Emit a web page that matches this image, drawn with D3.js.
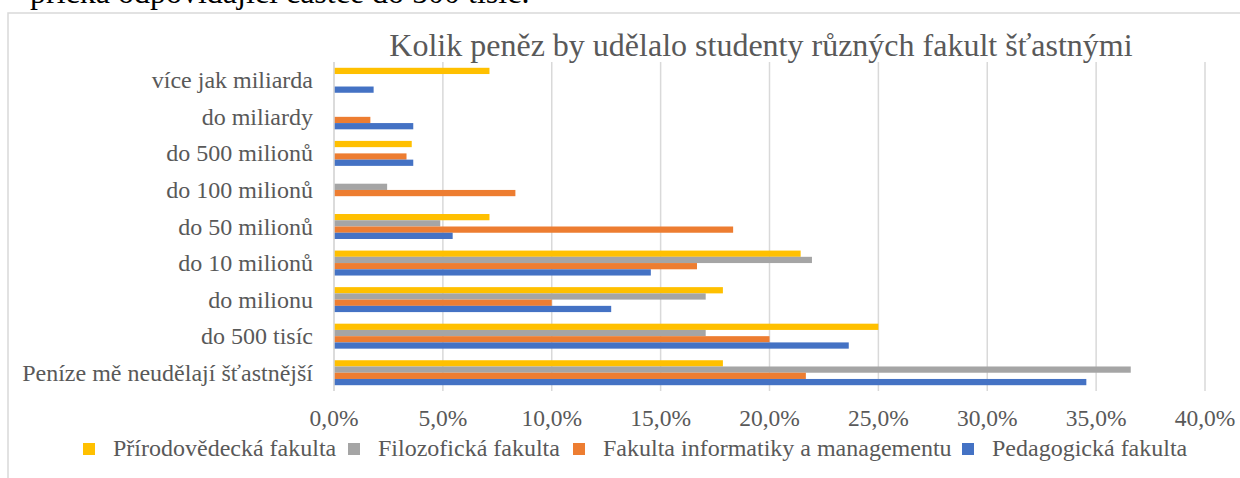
<!DOCTYPE html>
<html>
<head>
<meta charset="utf-8">
<script src="https://cdn.jsdelivr.net/npm/d3@7"></script>
<style>
  html, body { margin: 0; padding: 0; background: #fff; }
  svg { display: block; }
</style>
</head>
<body>
<div id="chart"></div>
<script>
// categories, bottom to top as in the original (first category at the bottom)
const categories = [
  "Peníze mě neudělají šťastnější",
  "do 500 tisíc",
  "do milionu",
  "do 10 milionů",
  "do 50 milionů",
  "do 100 milionů",
  "do 500 milionů",
  "do miliardy",
  "více jak miliarda"
];

const seriesNames = [
  "Přírodovědecká fakulta",
  "Filozofická fakulta",
  "Fakulta informatiky a managementu",
  "Pedagogická fakulta"
];
const seriesColors = ["#FFC000", "#A5A5A5", "#ED7D31", "#4472C4"];

// percentages, same order as categories
const prirodovedecka = [17.86, 25.0, 17.86, 21.43, 7.14, 0, 3.57, 0, 7.14];
const filozoficka    = [36.59, 17.07, 17.07, 21.95, 4.88, 2.44, 0, 0, 0];
const informatika    = [21.67, 20.0, 10.0, 16.67, 18.33, 8.33, 3.33, 1.67, 0];
const pedagogicka    = [34.55, 23.64, 12.73, 14.55, 5.45, 0, 3.64, 3.64, 1.82];

const xTicks = [0, 5, 10, 15, 20, 25, 30, 35, 40];

const allSeries = [prirodovedecka, filozoficka, informatika, pedagogicka];

const W = 1240, H = 478;
const plot = { left: 334, right: 1205, top: 62, bottom: 391 };
const serif = "'Liberation Serif'";

const svg = d3.select("#chart").append("svg")
  .attr("width", W)
  .attr("height", H);

// text cut off from the page above the chart
svg.append("text")
  .attr("x", 30)
  .attr("y", 3)
  .attr("fill", "#000")
  .attr("font-family", serif)
  .attr("font-size", 32)
  .text("příčka odpovídající částce do 500 tisíc.");

// chart frame
svg.append("rect")
  .attr("x", 8)
  .attr("y", 13)
  .attr("width", 1300)
  .attr("height", 600)
  .attr("fill", "#fff")
  .attr("stroke", "#d9d9d9")
  .attr("stroke-width", 1.5);

// title
svg.append("text")
  .attr("x", 761)
  .attr("y", 56)
  .attr("text-anchor", "middle")
  .attr("fill", "#595959")
  .attr("font-family", serif)
  .attr("font-size", 32)
  .text("Kolik peněz by udělalo studenty různých fakult šťastnými");

const x = d3.scaleLinear()
  .domain([0, 40])
  .range([plot.left, plot.right]);

const y = d3.scaleBand()
  .domain(categories.slice().reverse())
  .range([plot.top, plot.bottom])
  .paddingInner(0.317)
  .paddingOuter(0.1585);

const ySub = d3.scaleBand()
  .domain(seriesNames)
  .range([0, y.bandwidth()]);

// gridlines
svg.append("g")
  .selectAll("line")
  .data(xTicks)
  .enter()
  .append("line")
  .attr("x1", d => x(d))
  .attr("x2", d => x(d))
  .attr("y1", plot.top)
  .attr("y2", plot.bottom)
  .attr("stroke", "#d9d9d9")
  .attr("stroke-width", 1.5);

// bars
const groups = svg.append("g")
  .selectAll("g")
  .data(categories)
  .enter()
  .append("g")
  .attr("transform", d => `translate(0,${y(d)})`);

groups.selectAll("rect")
  .data((c, ci) => seriesNames.map((s, si) => ({ s, si, v: allSeries[si][ci] })))
  .enter()
  .append("rect")
  .filter(d => d.v > 0)
  .attr("x", x(0))
  .attr("y", d => ySub(d.s))
  .attr("width", d => x(d.v) - x(0))
  .attr("height", ySub.bandwidth())
  .attr("fill", d => seriesColors[d.si]);

// category axis line
svg.append("line")
  .attr("x1", x(0)).attr("x2", x(0))
  .attr("y1", plot.top).attr("y2", plot.bottom)
  .attr("stroke", "#d9d9d9")
  .attr("stroke-width", 1.5);

// category labels
svg.append("g")
  .selectAll("text")
  .data(categories)
  .enter()
  .append("text")
  .attr("x", 313)
  .attr("y", d => y(d) + y.bandwidth() / 2 + 8)
  .attr("text-anchor", "end")
  .attr("fill", "#595959")
  .attr("font-family", serif)
  .attr("font-size", 24)
  .text(d => d);

// x tick labels
const fmt = d => d.toFixed(1).replace(".", ",") + "%";
svg.append("g")
  .selectAll("text")
  .data(xTicks)
  .enter()
  .append("text")
  .attr("x", d => x(d))
  .attr("y", 426)
  .attr("text-anchor", "middle")
  .attr("fill", "#595959")
  .attr("font-family", serif)
  .attr("font-size", 23.5)
  .text(fmt);

// legend
const legendX = [83, 348, 573, 962];
const legend = svg.append("g")
  .selectAll("g")
  .data(seriesNames)
  .enter()
  .append("g")
  .attr("transform", (d, i) => `translate(${legendX[i]},0)`);

legend.append("rect")
  .attr("x", 0)
  .attr("y", 443)
  .attr("width", 12)
  .attr("height", 12)
  .attr("fill", (d, i) => seriesColors[i]);

legend.append("text")
  .attr("x", 30)
  .attr("y", 456)
  .attr("fill", "#595959")
  .attr("font-family", serif)
  .attr("font-size", 24)
  .text(d => d);
</script>
</body>
</html>
